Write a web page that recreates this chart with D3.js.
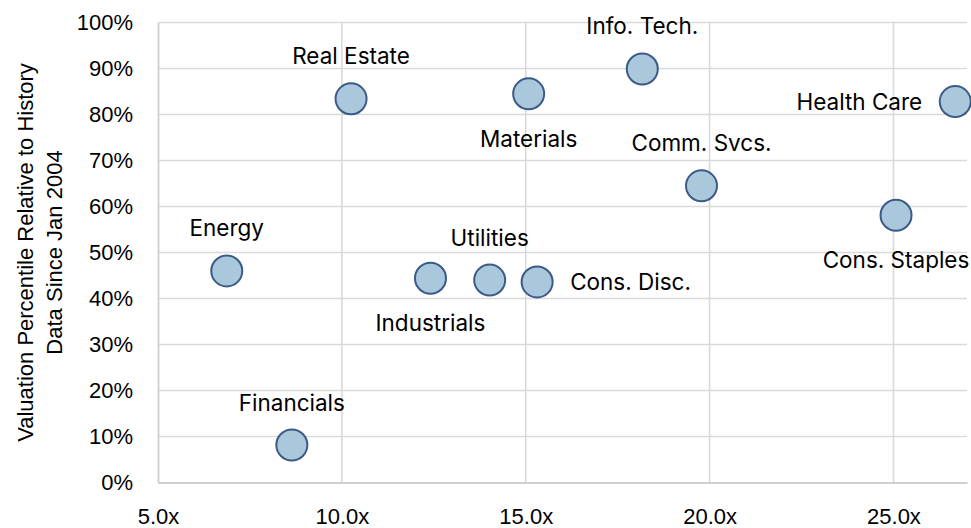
<!DOCTYPE html>
<html>
<head>
<meta charset="utf-8">
<script src="https://cdn.jsdelivr.net/npm/d3@7"></script>
<style>
  html, body { margin: 0; padding: 0; background: #fff; }
  svg { display: block; }
</style>
</head>
<body>
<svg id="chart"></svg>
<script>
// sectors: forward P/E vs valuation percentile
const sectors = ['Real Estate', 'Materials', 'Info. Tech.', 'Health Care', 'Comm. Svcs.',
  'Cons. Staples', 'Energy', 'Industrials', 'Utilities', 'Cons. Disc.', 'Financials']
const pe = [10.25, 15.08, 18.17, 26.68, 19.78, 25.07, 6.87, 12.41, 14.02, 15.31, 8.64]
const pctile = [0.834, 0.845, 0.899, 0.828, 0.645, 0.581, 0.46, 0.444, 0.44, 0.436, 0.0815]
const labelSide = ['top', 'bottom', 'top', 'left', 'top', 'bottom', 'top', 'bottom', 'top', 'right', 'top']

const xTicks = [5, 10, 15, 20, 25]
const yTicks = [0, 0.1, 0.2, 0.3, 0.4, 0.5, 0.6, 0.7, 0.8, 0.9, 1.0]
const yTitle = ['Valuation Percentile Relative to History', 'Data Since Jan 2004']

const w = 971
const h = 528
const plotLeft = 158
const plotRight = 967
const plotTop = 22.5
const plotBottom = 482.5

const data = sectors.map((name, i) => ({ name, x: pe[i], y: pctile[i], side: labelSide[i] }))

const svg = d3.select('#chart').attr('width', w).attr('height', h)

const xScale = d3.scaleLinear().domain([5, 27]).range([plotLeft, plotRight])
const yScale = d3.scaleLinear().domain([0, 1]).range([plotBottom, plotTop])

// gridlines
svg.append('g')
  .selectAll('line')
  .data(yTicks.slice(1))
  .enter()
  .append('line')
  .attr('x1', plotLeft)
  .attr('x2', plotRight)
  .attr('y1', (d) => yScale(d))
  .attr('y2', (d) => yScale(d))
  .attr('stroke', '#d9d9d9')
  .attr('stroke-width', 1.6)

svg.append('g')
  .selectAll('line')
  .data(xTicks.slice(1))
  .enter()
  .append('line')
  .attr('x1', (d) => xScale(d))
  .attr('x2', (d) => xScale(d))
  .attr('y1', plotTop)
  .attr('y2', plotBottom)
  .attr('stroke', '#d9d9d9')
  .attr('stroke-width', 1.6)

// axes
const xAxis = d3.axisBottom(xScale)
  .tickValues(xTicks)
  .tickSize(0)
  .tickPadding(26)
  .tickFormat((d) => d3.format('.1f')(d) + 'x')

const yAxis = d3.axisLeft(yScale)
  .tickValues(yTicks)
  .tickSize(0)
  .tickPadding(25)
  .tickFormat(d3.format('.0%'))

const gx = svg.append('g')
  .attr('transform', `translate(0, ${plotBottom})`)
  .call(xAxis)
gx.select('.domain').attr('stroke', '#cfcfcf').attr('stroke-width', 1.8)
gx.selectAll('text')
  .attr('font-family', 'Liberation Sans, Arial, sans-serif')
  .attr('font-size', 22)
  .attr('fill', '#000')

const gy = svg.append('g')
  .attr('transform', `translate(${plotLeft}, 0)`)
  .call(yAxis)
gy.select('.domain').attr('stroke', '#cfcfcf').attr('stroke-width', 1.8)
gy.selectAll('text')
  .attr('font-family', 'Liberation Sans, Arial, sans-serif')
  .attr('font-size', 22)
  .attr('fill', '#000')

// y title
const midY = (plotTop + plotBottom) / 2
svg.append('text')
  .attr('transform', `translate(33, ${midY}) rotate(-90)`)
  .attr('text-anchor', 'middle')
  .attr('font-family', 'Liberation Sans, Arial, sans-serif')
  .attr('font-size', 22)
  .attr('fill', '#000')
  .selectAll('tspan')
  .data(yTitle)
  .enter()
  .append('tspan')
  .attr('x', 0)
  .attr('dy', (_, i) => (i === 0 ? 0 : 28.5))
  .text((d) => d)

// points
svg.append('g')
  .selectAll('circle')
  .data(data)
  .enter()
  .append('circle')
  .attr('cx', (d) => xScale(d.x))
  .attr('cy', (d) => yScale(d.y))
  .attr('r', 15.5)
  .attr('fill', '#aac8db')
  .attr('stroke', '#3c5a87')
  .attr('stroke-width', 2)

// labels
const offsets = {
  top: { dx: 0, dy: -43, anchor: 'middle' },
  bottom: { dx: 0, dy: 44.5, anchor: 'middle' },
  left: { dx: -33, dy: 0, anchor: 'end' },
  right: { dx: 33, dy: 0, anchor: 'start' },
}

svg.append('g')
  .selectAll('text')
  .data(data)
  .enter()
  .append('text')
  .attr('x', (d) => xScale(d.x) + offsets[d.side].dx)
  .attr('y', (d) => yScale(d.y) + offsets[d.side].dy)
  .attr('text-anchor', (d) => offsets[d.side].anchor)
  .attr('dominant-baseline', 'central')
  .attr('font-family', 'Inter, sans-serif')
  .attr('font-size', 22.5)
  .attr('fill', '#000')
  .text((d) => d.name)
</script>
</body>
</html>
